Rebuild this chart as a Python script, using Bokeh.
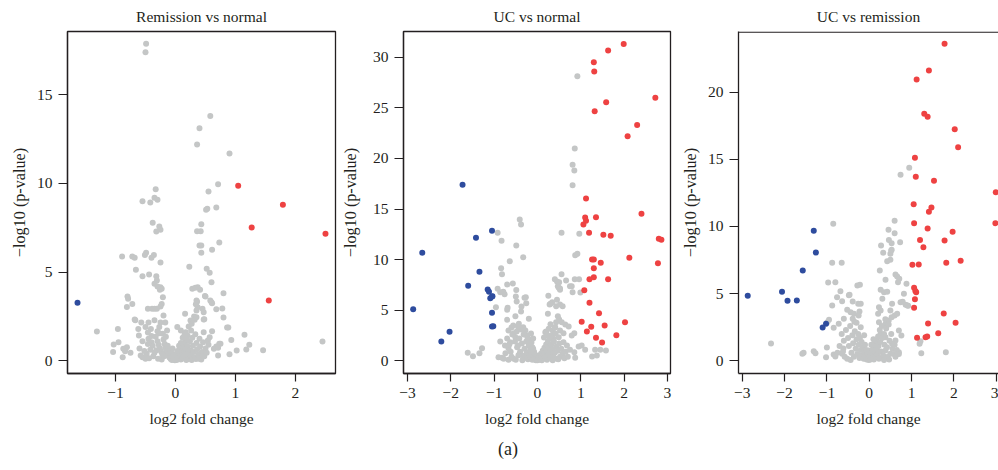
from bokeh.plotting import figure
from bokeh.models import Range1d, FixedTicker, CustomJSTickFormatter, Span, Title
from bokeh.layouts import row
from bokeh.embed import file_html
from bokeh.resources import INLINE

# ---------------- data ----------------
titles = ["Remission vs normal", "UC vs normal", "UC vs remission"]
x_label = "log2 fold change"
y_label = "\u2212log10 (p-value)"
panel_label = "(a)"

x_ticks_1 = [-1, 0, 1, 2]
x_ticks_23 = [-3, -2, -1, 0, 1, 2, 3]
y_ticks_1 = [0, 5, 10, 15]
y_ticks_2 = [0, 5, 10, 15, 20, 25, 30]
y_ticks_3 = [0, 5, 10, 15, 20]

# Panel 1: Remission vs normal
rn_red = [(1.045, 9.87), (1.79, 8.80), (1.27, 7.52), (2.50, 7.16), (1.555, 3.40)]
rn_blue = [(-1.633, 3.27)]
rn_gray = [
    (-0.49, 17.88), (-0.50, 17.40), (0.58, 13.80), (0.40, 13.12), (0.36, 12.20), (0.90, 11.69),
    (0.71, 9.96), (0.55, 9.55), (0.53, 8.57), (0.51, 8.52), (0.68, 8.65), (0.43, 7.70), (0.36, 7.31), (0.42, 7.31),
    (-0.33, 9.68), (-0.55, 9.00), (-0.42, 8.93), (-0.35, 9.19), (-0.30, 9.08), (-0.38, 7.78), (-0.27, 7.57),
    (-0.25, 7.39), (-0.32, 7.29),
    (0.40, 6.50), (0.43, 6.50), (0.73, 6.67), (0.61, 6.26), (0.43, 6.09),
    (-0.49, 6.09), (-0.51, 5.96), (-0.89, 5.88), (-0.72, 5.88), (-0.68, 5.81), (-0.36, 5.96), (-0.40, 5.81),
    (-0.25, 5.54), (-0.66, 5.13),
    (0.23, 5.30), (0.52, 5.19), (0.57, 4.96),
    (-0.55, 4.77), (-0.44, 4.87), (-0.32, 4.77), (-0.31, 4.53), (-0.35, 4.34), (-0.25, 4.15), (-0.23, 4.06),
    (-0.30, 4.19), (-0.26, 4.00),
    (0.60, 4.43), (0.28, 4.06), (0.37, 4.15), (0.41, 4.00), (0.33, 4.12), (0.80, 3.81), (0.50, 3.63), (0.49, 3.66),
    (-0.80, 3.63), (-0.79, 3.50), (-0.21, 3.59), (-0.72, 3.21), (-0.81, 3.04), (-0.23, 3.21), (-0.25, 3.06),
    (0.36, 3.33), (0.34, 3.19), (0.58, 3.40), (0.60, 3.30), (0.35, 3.40), (0.61, 3.25), (0.37, 3.02),
    (-0.46, 2.93), (-0.39, 2.93), (-0.35, 2.93), (-0.31, 2.93), (-0.20, 2.55),
    (0.45, 2.93), (0.47, 2.74), (0.68, 2.91), (0.78, 2.95), (0.16, 2.65), (0.35, 2.84), (0.31, 2.50), (0.35, 2.46),
    (0.32, 2.31), (0.80, 2.44), (0.47, 2.33), (0.48, 2.35),
    (-0.68, 2.33), (-0.57, 2.16), (-0.45, 2.16), (-0.25, 2.16), (-0.17, 2.16), (-0.67, 2.28), (-0.35, 2.28),
    (0.25, 2.27), (0.27, 2.09), (0.03, 1.90), (0.09, 1.71), (0.17, 1.61),
    (-0.27, 1.90), (-0.30, 1.67), (-0.14, 1.71), (-0.21, 1.52), (-0.50, 1.90), (-0.41, 1.80), (-0.46, 1.60),
    (-0.62, 1.80), (-0.61, 1.43), (-0.96, 1.80), (-1.31, 1.65),
    (0.22, 1.93), (0.26, 1.71), (0.20, 1.43), (0.47, 1.61), (0.57, 1.33), (0.54, 1.15), (0.61, 1.67), (0.86, 1.88),
    (0.88, 1.88), (1.15, 1.47), (0.93, 1.18),
    (0.73, 0.96), (0.68, 0.81), (0.64, 0.68), (0.75, 0.96), (0.71, 0.73), (1.23, 0.90), (1.18, 0.64), (1.02, 0.58),
    (1.46, 0.60), (2.45, 1.09), (0.90, 0.37), (0.71, 0.30),
    (-1.03, 0.92), (-0.95, 1.05), (-0.87, 0.68), (-0.81, 0.77), (-0.84, 0.54), (-1.04, 0.49), (-0.88, 0.20),
    (-0.75, 0.45), (-0.55, 0.20), (-0.50, 0.11),
    (-0.45, 1.25), (-0.40, 1.05), (-0.38, 0.85), (-0.42, 0.62), (-0.35, 0.45), (-0.33, 1.35), (-0.30, 1.10),
    (-0.28, 0.90), (-0.26, 0.70), (-0.24, 0.52), (-0.22, 0.35), (-0.20, 1.20), (-0.18, 0.95), (-0.17, 0.75),
    (-0.15, 0.55), (-0.14, 0.40), (-0.12, 0.28), (-0.11, 0.62), (-0.10, 0.18), (-0.09, 0.45), (-0.08, 0.10),
    (-0.07, 0.30), (-0.06, 0.05), (-0.05, 0.20), (-0.04, 0.38), (-0.03, 0.08), (-0.02, 0.15), (-0.01, 0.03),
    (0.00, 0.10), (0.01, 0.22), (0.02, 0.05), (0.03, 0.32), (0.04, 0.12), (0.05, 0.45), (0.06, 0.18), (0.07, 0.60),
    (0.08, 0.28), (0.09, 0.08), (0.10, 0.75), (0.11, 0.38), (0.12, 0.15), (0.13, 0.90), (0.14, 0.52), (0.15, 0.25),
    (0.16, 1.05), (0.17, 0.68), (0.18, 0.35), (0.19, 1.20), (0.20, 0.82), (0.21, 0.45), (0.22, 0.12), (0.24, 1.10),
    (0.25, 0.60), (0.26, 0.30), (0.28, 1.30), (0.29, 0.85), (0.30, 0.50), (0.32, 0.20), (0.33, 1.50), (0.35, 1.00),
    (0.36, 0.65), (0.38, 0.35), (0.40, 1.25), (0.41, 0.80), (0.43, 0.08), (0.44, 0.50), (0.46, 1.05), (0.48, 0.25),
    (0.50, 0.70), (-0.48, 0.40), (-0.46, 0.95), (-0.44, 0.15), (-0.40, 1.40), (-0.37, 0.25), (-0.32, 0.60),
    (-0.29, 0.12), (-0.27, 1.55), (-0.23, 0.08), (-0.19, 0.25), (-0.16, 1.35), (-0.13, 0.85), (-0.08, 0.55),
    (-0.05, 0.70), (0.03, 0.55), (0.06, 0.85), (0.09, 1.00), (0.12, 1.30), (0.15, 1.45), (0.18, 0.05), (0.27, 0.05),
    (0.34, 0.10), (0.39, 0.12), (0.45, 0.30), (0.52, 0.45), (0.55, 0.90), (-0.52, 0.55), (-0.55, 1.10),
    (-0.58, 0.30), (-0.60, 0.70),
]

# Panel 2: UC vs normal
un_red = [
    (1.99, 31.3), (1.63, 30.66), (1.30, 29.5), (1.31, 28.59), (2.72, 26.0), (1.585, 25.55), (1.32, 24.67),
    (2.30, 23.3), (2.08, 22.2), (1.12, 16.04), (1.10, 14.16), (1.12, 13.83), (1.06, 13.47), (1.35, 14.19),
    (2.40, 14.53), (1.19, 12.65), (1.52, 12.45), (1.69, 12.35), (2.80, 12.05), (2.86, 11.96), (2.12, 10.18),
    (1.26, 10.0), (1.30, 10.0), (1.46, 9.68), (1.30, 9.15), (2.78, 9.65), (1.30, 8.26), (1.20, 8.06), (1.63, 8.06),
    (1.08, 6.98), (1.20, 5.73), (1.42, 4.70), (1.02, 3.85), (2.02, 3.81), (1.24, 3.36), (1.14, 2.90), (1.55, 3.49),
    (1.35, 2.27), (1.49, 1.81), (1.82, 2.53),
]
un_blue = [
    (-1.73, 17.39), (-1.05, 12.85), (-1.42, 12.15), (-2.66, 10.67), (-1.34, 8.79), (-1.60, 7.41), (-1.15, 7.05),
    (-1.12, 6.82), (-1.04, 6.38), (-1.09, 6.19), (-1.05, 6.35), (-2.87, 5.10), (-1.05, 4.74), (-1.02, 3.42),
    (-1.05, 3.39), (-2.03, 2.86), (-2.22, 1.90),
]
un_gray = [
    (0.92, 28.12), (0.86, 20.98), (0.81, 19.37), (0.85, 18.8), (0.81, 17.35), (-0.41, 13.96), (-0.38, 13.47),
    (-0.92, 12.65), (0.555, 12.65), (0.965, 12.55), (-0.83, 11.86), (-0.49, 11.39), (-0.33, 10.24), (0.92, 10.57),
    (0.87, 10.44), (-0.64, 9.84), (-0.84, 9.15), (-0.82, 8.56), (0.555, 8.56), (0.86, 8.06), (0.96, 8.06),
    (0.40, 8.06), (0.45, 7.84), (0.66, 7.93), (0.47, 7.37), (0.52, 7.14), (0.79, 7.37), (0.81, 6.78), (0.99, 6.75),
    (-0.70, 7.54), (-0.57, 7.64), (-0.92, 7.11), (-0.79, 6.82), (-0.76, 6.58), (-0.49, 7.0), (-0.86, 6.78),
    (0.25, 6.42), (0.45, 6.03), (0.28, 5.56), (0.52, 5.56), (0.34, 5.79), (0.30, 5.63), (0.43, 5.40), (0.58, 5.40),
    (0.24, 4.64), (0.49, 7.21), (0.52, 7.02), (0.50, 7.77), (0.75, 7.37),
    (-0.50, 6.35), (-0.30, 6.22), (-0.26, 5.69), (-0.37, 5.37), (-0.96, 5.30), (-0.69, 5.24), (-0.27, 6.28),
    (-0.48, 5.86), (-0.38, 4.87), (-0.20, 4.15), (-0.51, 4.41), (-0.70, 5.04), (-0.70, 4.05), (-0.56, 3.49),
    (-0.43, 3.66), (-0.33, 3.32),
    (-0.67, 2.99), (-0.55, 2.73), (-0.51, 2.33), (-0.63, 1.84), (-0.86, 1.91), (-0.67, 1.25), (-0.74, 0.75),
    (-0.47, 1.34), (-0.41, 0.69), (-0.55, 0.20), (-0.28, 2.99), (-0.24, 2.50), (-0.15, 2.08), (-0.12, 1.34),
    (-0.085, 0.85), (-0.01, 0.36),
    (-1.61, 0.79), (-1.49, 0.46), (-1.28, 1.25), (-1.34, 0.75), (-0.90, 0.36), (-0.82, 0.30), (-0.67, 0.10),
    (0.47, 4.41), (0.50, 4.08), (0.43, 3.81), (0.56, 3.81), (0.64, 3.59), (0.72, 3.39), (0.41, 3.32), (0.35, 2.99),
    (0.26, 3.16), (0.18, 2.83), (0.52, 2.99), (0.60, 2.73), (0.79, 2.50), (0.85, 2.73), (0.26, 2.50), (0.37, 2.17),
    (0.49, 2.33), (0.60, 1.84), (0.68, 1.51), (0.75, 1.09), (0.85, 0.85), (0.95, 1.41), (1.02, 1.51), (1.10, 1.09),
    (1.33, 1.09), (1.45, 1.09), (1.58, 1.02), (1.26, 0.42), (1.37, 0.52), (0.87, 0.30),
    (-0.58, 2.6), (-0.52, 1.9), (-0.48, 2.9), (-0.45, 1.5), (-0.42, 2.2), (-0.40, 0.9), (-0.38, 3.1), (-0.36, 1.7),
    (-0.34, 0.5), (-0.32, 2.6), (-0.30, 1.2), (-0.28, 0.3), (-0.26, 1.9), (-0.25, 0.8), (-0.23, 2.3), (-0.22, 0.15),
    (-0.20, 1.5), (-0.19, 0.6), (-0.17, 1.1), (-0.16, 0.35), (-0.14, 1.8), (-0.13, 0.75), (-0.12, 0.1), (-0.10, 1.2),
    (-0.09, 0.45), (-0.08, 0.9), (-0.07, 0.2), (-0.05, 0.6), (-0.04, 0.05), (-0.03, 0.35), (-0.02, 0.15),
    (0.00, 0.05), (0.02, 0.25), (0.03, 0.1), (0.05, 0.45), (0.06, 0.15), (0.08, 0.7), (0.09, 0.3), (0.10, 0.05),
    (0.12, 1.0), (0.13, 0.5), (0.14, 0.2), (0.16, 1.3), (0.17, 0.75), (0.18, 0.35), (0.20, 1.6), (0.21, 1.0),
    (0.22, 0.1), (0.24, 1.9), (0.25, 0.6), (0.26, 1.3), (0.28, 2.2), (0.29, 0.9), (0.30, 0.3), (0.32, 1.6),
    (0.33, 2.5), (0.35, 1.1), (0.36, 0.5), (0.38, 1.9), (0.40, 0.8), (0.42, 2.7), (0.43, 1.4), (0.45, 0.2),
    (0.47, 1.0), (0.50, 1.7), (0.52, 0.4), (0.55, 1.2), (0.58, 0.7), (0.62, 0.25), (0.65, 0.9), (0.70, 0.4),
    (-0.62, 0.9), (-0.65, 1.6), (-0.60, 0.4), (-0.70, 2.2), (-0.75, 1.5), (-0.78, 0.2), (-0.50, 0.1), (-0.44, 0.55),
    (-0.35, 0.05), (0.35, 0.05), (0.48, 0.15), (0.40, 3.3), (0.30, 3.6), (0.20, 2.9), (0.15, 2.3), (-0.15, 2.7),
    (-0.10, 2.2), (-0.45, 3.4), (-0.60, 3.3),
]

# Panel 3: UC vs remission
ur_red = [
    (1.78, 23.6), (1.41, 21.62), (1.12, 20.95), (1.30, 18.39), (1.38, 18.17), (2.02, 17.25), (2.10, 15.90),
    (1.08, 15.12), (1.10, 13.70), (1.53, 13.40), (2.99, 12.55), (1.05, 11.66), (1.47, 11.41), (1.41, 11.10),
    (1.06, 10.25), (2.98, 10.25), (1.38, 9.85), (1.97, 9.60), (1.78, 8.96), (1.20, 9.00), (1.28, 8.46),
    (1.02, 7.15), (1.17, 7.17), (1.82, 7.30), (2.16, 7.45), (1.06, 5.43), (1.11, 5.11), (1.09, 5.20),
    (1.08, 4.59), (1.06, 3.95), (1.76, 3.52), (2.04, 2.83), (1.39, 2.78), (1.63, 2.06), (1.13, 1.71),
    (1.33, 1.76), (1.37, 1.81),
]
ur_blue = [
    (-1.31, 9.68), (-1.26, 8.06), (-1.57, 6.72), (-2.06, 5.14), (-2.87, 4.84), (-1.93, 4.47), (-1.71, 4.49),
    (-1.02, 2.75), (-1.10, 2.48),
]
ur_gray = [
    (0.945, 14.37), (0.74, 13.85), (-0.85, 10.20), (0.60, 10.42), (0.456, 9.75), (0.60, 9.50), (0.465, 9.0),
    (0.53, 8.76), (0.73, 8.83), (0.28, 8.58), (0.33, 8.04), (0.52, 8.21), (0.50, 7.97), (0.53, 8.26), (0.425, 7.42),
    (0.50, 7.52), (-0.875, 7.30), (-0.65, 7.30), (0.25, 6.72), (0.62, 6.43), (0.66, 6.28), (0.71, 6.10),
    (0.68, 5.85), (0.88, 5.73), (0.385, 6.03), (-0.97, 5.83), (-0.80, 5.85), (-0.22, 5.66), (-0.28, 5.61),
    (-0.68, 5.18), (-0.48, 4.88), (0.27, 5.29), (0.35, 5.11), (0.425, 5.14), (0.82, 4.99), (0.86, 4.17),
    (0.79, 4.39), (0.92, 4.10), (-0.76, 4.74), (-0.64, 4.44), (-0.875, 4.12), (-0.465, 4.91), (-0.39, 4.42),
    (-0.26, 4.24), (-0.20, 4.24), (-0.52, 3.80), (-0.44, 3.62), (-0.36, 3.50), (-0.23, 3.67), (-0.25, 3.37),
    (-0.39, 3.13), (-0.30, 2.83), (-0.60, 3.13), (-0.72, 2.75), (-0.84, 2.46), (-0.99, 2.87), (-0.95, 3.05),
    (-2.32, 1.29), (-1.55, 0.60), (-1.58, 0.52), (-1.31, 0.71), (-1.27, 0.57), (-1.02, 0.27), (-0.84, 0.47),
    (-0.80, 0.32), (-0.64, 0.52), (-1.00, 0.99), (-0.61, 0.92), (1.21, 1.46), (1.23, 0.57), (1.81, 0.64),
    (1.19, 1.27),
    (0.54, 4.24), (0.31, 4.62), (0.74, 4.36), (0.90, 4.12), (0.23, 3.99), (0.27, 3.75), (0.21, 3.50), (0.50, 3.75),
    (0.53, 3.25), (0.60, 3.37), (0.66, 3.50), (0.46, 3.00), (0.23, 2.87), (0.385, 2.75), (0.70, 2.26), (0.76, 1.88),
    (0.62, 1.51), (0.54, 1.27), (0.385, 1.76), (0.27, 2.01), (0.19, 1.38), (0.11, 1.01), (-0.01, 0.77),
    (0.385, 0.77), (0.50, 0.52), (0.66, 0.52), (0.70, 0.64), (0.07, 0.27), (0.23, 0.15),
    (-0.55, 2.3), (-0.50, 1.7), (-0.48, 1.1), (-0.45, 2.6), (-0.42, 0.6), (-0.40, 1.9), (-0.38, 1.3), (-0.36, 0.3),
    (-0.34, 2.2), (-0.32, 0.9), (-0.30, 1.6), (-0.28, 0.5), (-0.26, 2.0), (-0.25, 1.2), (-0.23, 0.2), (-0.22, 1.7),
    (-0.20, 0.8), (-0.18, 1.4), (-0.17, 0.4), (-0.15, 1.0), (-0.13, 0.15), (-0.12, 0.7), (-0.10, 1.2),
    (-0.09, 0.35), (-0.07, 0.8), (-0.06, 0.1), (-0.04, 0.5), (-0.03, 0.2), (-0.01, 0.05), (0.01, 0.3), (0.03, 0.1),
    (0.04, 0.55), (0.06, 0.2), (0.08, 0.85), (0.09, 0.4), (0.11, 0.1), (0.12, 1.2), (0.14, 0.6), (0.15, 0.3),
    (0.17, 1.5), (0.18, 0.9), (0.20, 0.5), (0.21, 1.8), (0.22, 1.1), (0.24, 0.2), (0.25, 2.3), (0.26, 1.4),
    (0.28, 0.7), (0.30, 2.6), (0.31, 1.7), (0.33, 0.4), (0.35, 2.0), (0.36, 1.2), (0.38, 3.1), (0.40, 2.4),
    (0.42, 1.0), (0.44, 0.3), (0.46, 2.7), (0.48, 1.5), (0.52, 2.0), (0.55, 0.9), (0.58, 0.5), (0.60, 1.2),
    (0.62, 0.3), (0.65, 0.8), (0.70, 0.5), (-0.60, 1.5), (-0.62, 0.7), (-0.65, 2.0), (-0.58, 0.3), (-0.70, 1.1),
    (-0.75, 0.6), (-0.52, 0.15), (-0.44, 0.05), (0.47, 0.1), (0.35, 0.05), (-0.35, 2.9), (-0.20, 2.5),
    (-0.12, 1.9), (0.10, 1.6), (0.05, 1.2),
]

# ---------------- styling ----------------
FONT = "Liberation Serif"
FS = 15.5
INK = "#231f20"
GRAY = "#C4C6C6"
RED = "#EE4242"
BLUE = "#2E4C9E"
H = 470
TOP = 31
BOTTOM = 97

minus_fmt = CustomJSTickFormatter(code="return tick < 0 ? '\\u2212' + Math.abs(tick) : String(tick);")


def make_panel(title, width, left, right, xr, yr, xt, yt, gray, red, blue, ylab_standoff, outline=True):
    p = figure(width=width, height=H, x_range=Range1d(*xr), y_range=Range1d(*yr),
               output_backend="svg", toolbar_location=None, title=title,
               min_border_left=left, min_border_right=right,
               min_border_top=TOP, min_border_bottom=BOTTOM)
    p.background_fill_color = "white"
    p.border_fill_color = "white"
    p.grid.visible = False
    p.title.text_font = FONT
    p.title.text_font_size = f"{FS}px"
    p.title.text_font_style = "normal"
    p.title.text_color = INK
    p.title.align = "center"
    p.title.vertical_align = "middle"
    p.title.standoff = 11
    if outline:
        p.outline_line_color = INK
        p.outline_line_width = 1.3
        p.outline_line_alpha = 1.0
    else:
        p.outline_line_color = None
        top_edge = yr[1] - 0.6 * (yr[1] - yr[0]) / (H - TOP - BOTTOM)
        p.add_layout(Span(location=top_edge, dimension="width", line_color=INK, line_width=1.3))

    for ax, ticks, tout in ((p.xaxis[0], xt, 8), (p.yaxis[0], yt, 9)):
        ax.ticker = FixedTicker(ticks=ticks)
        ax.formatter = minus_fmt
        ax.minor_tick_line_color = None
        ax.major_tick_in = 0
        ax.major_tick_out = tout
        ax.major_tick_line_color = INK
        ax.major_tick_line_width = 1.2
        ax.axis_line_color = INK
        ax.axis_line_width = 1.3
        ax.major_label_text_font = FONT
        ax.major_label_text_font_size = f"{FS}px"
        ax.major_label_text_color = INK
        ax.major_label_standoff = 6
        ax.axis_label_text_font = FONT
        ax.axis_label_text_font_size = f"{FS}px"
        ax.axis_label_text_font_style = "normal"
        ax.axis_label_text_color = INK
    p.yaxis[0].major_label_orientation = "horizontal"
    p.yaxis[0].axis_label_text_font_size = "16.2px"

    p.xaxis[0].axis_label = x_label
    p.xaxis[0].axis_label_standoff = 9
    p.yaxis[0].axis_label = y_label
    p.yaxis[0].axis_label_standoff = ylab_standoff

    for pts, col in ((gray, GRAY), (red, RED), (blue, BLUE)):
        xs = [a for a, b in pts]
        ys = [b for a, b in pts]
        p.scatter(xs, ys, size=6, color=col, line_color=None)
    return p


p1 = make_panel(titles[0], 338, 67, 3, (-1.8, 2.667), (-0.716, 18.57), x_ticks_1, y_ticks_1,
                rn_gray, rn_red, rn_blue, 5)
p2 = make_panel(titles[1], 335, 65, 3, (-3.093, 3.07), (-1.255, 32.54), x_ticks_23, y_ticks_2,
                un_gray, un_red, un_blue, 10)
p3 = make_panel(titles[2], 325, 65, 0, (-3.088, 3.054), (-0.946, 24.52), x_ticks_23, y_ticks_3,
                ur_gray, ur_red, ur_blue, 5, outline=False)

p2.add_layout(Title(text=panel_label, align="left", offset=94.5, standoff=17, vertical_align="middle",
                    text_font=FONT, text_font_size="18px", text_font_style="normal",
                    text_color=INK), "below")

layout = row(p1, p2, p3)
open("out.html", "w").write(file_html(layout, INLINE))
